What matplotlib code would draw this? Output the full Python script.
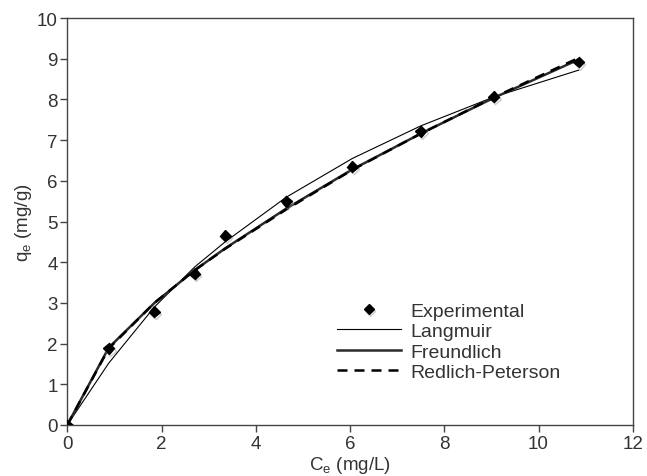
import matplotlib
matplotlib.use('Agg')
import matplotlib.pyplot as plt
import matplotlib.patheffects as pe

# equilibrium data
ce = [0.0, 0.88, 1.85, 2.7, 3.35, 4.65, 6.05, 7.5, 9.05, 10.85]
qe_exp = [0.0, 1.88, 2.78, 3.72, 4.65, 5.5, 6.35, 7.22, 8.07, 8.92]
qe_langmuir = [0.0, 1.52, 2.9, 3.88, 4.5, 5.6, 6.55, 7.35, 8.06, 8.72]
qe_freundlich = [0.0, 1.9, 3.0, 3.8, 4.34, 5.32, 6.28, 7.16, 8.04, 8.98]
qe_redlich = [0.0, 1.88, 3.0, 3.8, 4.33, 5.3, 6.27, 7.16, 8.05, 9.02]

plt.rcParams['font.family'] = ['Liberation Sans', 'DejaVu Sans']
txt = '#333333'

fig, ax = plt.subplots(figsize=(6.47, 4.77), dpi=100)
fig.subplots_adjust(left=0.104, right=0.978, top=0.960, bottom=0.107)

shadow = [pe.SimpleLineShadow(offset=(1, -1.5), shadow_color='0.6', alpha=0.5), pe.Normal()]

ax.plot(ce, qe_exp, linestyle='none', marker='D', markersize=5.5, color='black',
        label='Experimental', zorder=5, path_effects=shadow)
ax.plot(ce, qe_langmuir, color='black', lw=0.8, label='Langmuir')
ax.plot(ce, qe_freundlich, color='#2a2a2a', lw=1.8, label='Freundlich')
ax.plot(ce, qe_redlich, color='black', lw=1.8, dashes=(4, 2.8), label='Redlich-Peterson')

ax.set_xlim(0, 12)
ax.set_ylim(0, 10)
ax.set_xticks(range(0, 13, 2))
ax.set_yticks(range(0, 11))

for s in ax.spines.values():
    s.set_color('#444444')
    s.set_linewidth(1.0)
ax.tick_params(direction='out', length=5, width=1, color='#444444',
               labelsize=13.5, labelcolor=txt, pad=2)

ax.set_xlabel('C$_\\mathregular{e}$ (mg/L)', fontsize=13.5, color=txt, labelpad=2)
ax.set_ylabel('q$_\\mathregular{e}$ (mg/g)', fontsize=13.5, color=txt, labelpad=2)

ax.legend(loc='center left', bbox_to_anchor=(0.477, 0.205), frameon=False,
          fontsize=14, labelcolor=txt, numpoints=1, handlelength=3.3,
          handletextpad=0.45, labelspacing=0.15, borderpad=0, borderaxespad=0,
          markerscale=0.9)

plt.savefig('out.png', dpi=100)
